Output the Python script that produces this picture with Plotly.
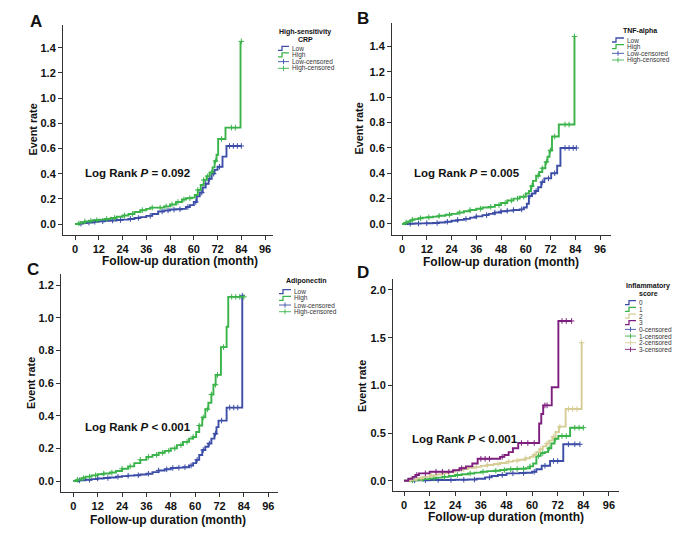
import numpy as np
import plotly.graph_objects as go

# The page body has an 8px default margin, so the figure is drawn at (8, 8)
OFF = 8
W, H = 685 - OFF, 540 - OFF

# ---------------- data ----------------
x_ticks = [0, 12, 24, 36, 48, 60, 72, 84, 96]

# Panel A: High-sensitivity CRP
A_low_t = [0, 2, 4, 6, 9, 12, 15, 18, 21, 24, 27, 30, 33, 36, 39, 42, 45, 48, 51, 54, 56, 58, 60, 61.5, 63, 64.5, 66, 67.5, 69, 70.5, 72, 74.5, 76.5, 84]
A_low_v = [0, 0.003, 0.008, 0.012, 0.018, 0.022, 0.025, 0.028, 0.032, 0.035, 0.04, 0.048, 0.055, 0.065, 0.08, 0.10, 0.108, 0.115, 0.118, 0.12, 0.135, 0.15, 0.175, 0.22, 0.25, 0.29, 0.32, 0.36, 0.40, 0.43, 0.455, 0.535, 0.62, 0.62]
A_low_cens = [3, 7, 10, 14, 19, 23, 28, 32, 38, 44, 47, 50, 53, 57, 61, 64, 66, 68, 70, 73, 78, 80, 82, 84]
A_high_t = [0, 1.5, 3, 5, 7, 9, 12, 15, 18, 21, 24, 27, 30, 33, 36, 38, 42, 45, 48, 51, 54, 56, 59, 60.5, 62, 63.5, 65, 66.5, 68, 69.5, 70.5, 71.5, 72.3, 76, 83.6]
A_high_v = [0, 0.005, 0.012, 0.02, 0.025, 0.03, 0.035, 0.04, 0.048, 0.058, 0.068, 0.08, 0.095, 0.11, 0.12, 0.13, 0.13, 0.14, 0.155, 0.175, 0.195, 0.205, 0.21, 0.23, 0.27, 0.31, 0.35, 0.38, 0.41, 0.45, 0.50, 0.55, 0.675, 0.765, 1.45]
A_high_cens = [2, 5, 8, 11, 16, 20, 25, 29, 34, 39, 43, 46, 49, 52, 55, 58, 62, 65, 67, 69, 71, 74, 79, 81, 84]

# Panel B: TNF-alpha
B_low_t = [0, 3, 6, 9, 12, 15, 18, 21, 24, 27, 30, 33, 36, 39, 42, 45, 48, 51, 54, 57, 59, 60.5, 61.5, 63, 64.5, 66, 67.5, 69, 72.3, 75.2, 76.8, 84.5]
B_low_v = [0, 0.002, 0.004, 0.005, 0.006, 0.008, 0.012, 0.018, 0.025, 0.032, 0.04, 0.05, 0.06, 0.07, 0.08, 0.09, 0.10, 0.105, 0.11, 0.115, 0.13, 0.16, 0.22, 0.24, 0.26, 0.29, 0.33, 0.36, 0.40, 0.46, 0.60, 0.60]
B_low_cens = [4, 8, 12, 17, 22, 27, 31, 36, 41, 45, 48, 51, 54, 58, 62, 65, 68, 71, 74, 79, 81, 83, 84.5]
B_high_t = [0, 1, 2, 3, 4, 5, 6, 8, 10, 12, 15, 18, 21, 24, 27, 30, 33, 36, 39, 42, 45, 48, 51, 54, 57, 60, 61.5, 62.5, 63.5, 65, 66.5, 68, 69.5, 70.5, 71.5, 72.7, 76, 83.6]
B_high_v = [0, 0.005, 0.012, 0.02, 0.027, 0.033, 0.038, 0.045, 0.05, 0.053, 0.058, 0.065, 0.073, 0.08, 0.09, 0.10, 0.11, 0.12, 0.13, 0.135, 0.15, 0.165, 0.185, 0.20, 0.215, 0.24, 0.26, 0.30, 0.34, 0.38, 0.41, 0.44, 0.49, 0.53, 0.58, 0.69, 0.785, 1.48]
B_high_cens = [2, 5, 9, 13, 18, 23, 28, 33, 38, 43, 47, 50, 53, 56, 59, 63, 66, 68, 70, 72, 74, 79, 81, 83.6]

# Panel C: Adiponectin
C_low_t = [0, 3, 6, 9, 12, 15, 18, 21, 24, 27, 30, 33, 36, 39, 42, 45, 48, 51, 54, 57, 59, 60.5, 62, 63.5, 65, 66.5, 68, 69.5, 70.5, 71.5, 75.5, 83.2]
C_low_v = [0, 0.004, 0.008, 0.012, 0.016, 0.019, 0.022, 0.026, 0.03, 0.033, 0.036, 0.04, 0.045, 0.055, 0.065, 0.072, 0.08, 0.082, 0.085, 0.095, 0.11, 0.13, 0.16, 0.19, 0.21, 0.23, 0.26, 0.29, 0.33, 0.37, 0.45, 1.135]
C_low_cens = [3, 8, 12, 17, 22, 27, 32, 37, 42, 46, 49, 52, 55, 58, 61, 64, 67, 70, 73, 77, 79, 81, 83.2]
C_high_t = [0, 2, 4, 6, 9, 12, 15, 18, 21, 24, 27, 30, 33, 36, 39, 42, 45, 48, 51, 54, 57, 59, 60.5, 62, 63.5, 65, 66.5, 68, 69, 70.1, 72.7, 75.5, 76.3, 84]
C_high_v = [0, 0.008, 0.018, 0.027, 0.035, 0.042, 0.046, 0.052, 0.062, 0.075, 0.09, 0.11, 0.13, 0.148, 0.16, 0.173, 0.185, 0.20, 0.22, 0.24, 0.26, 0.27, 0.30, 0.34, 0.39, 0.44, 0.48, 0.53, 0.59, 0.65, 0.82, 0.945, 1.128, 1.128]
C_high_cens = [2, 5, 8, 11, 15, 19, 24, 28, 33, 37, 41, 44, 47, 50, 53, 56, 59, 62, 64, 66, 68, 70, 71, 74, 78, 80, 82, 84]

# Panel D: Inflammatory score
D0_t = [0, 4, 8, 12, 18, 24, 30, 34, 38, 41, 44, 48, 54, 57, 60, 62, 64.5, 68.4, 74.6, 82.4]
D0_v = [0, 0.003, 0.005, 0.007, 0.008, 0.01, 0.012, 0.02, 0.035, 0.05, 0.06, 0.077, 0.08, 0.084, 0.094, 0.12, 0.157, 0.207, 0.382, 0.382]
D0_cens = [5, 10, 16, 22, 28, 33, 40, 46, 51, 56, 61, 66, 70, 72, 77, 80, 82.4]
D1_t = [0, 3, 6, 9, 12, 15, 18, 21, 24, 27, 30, 33, 36, 39, 42, 45, 48, 51, 54, 57, 59, 60.5, 62, 64, 66, 67.5, 69, 70.5, 72.3, 77.8, 84]
D1_v = [0, 0.004, 0.01, 0.017, 0.024, 0.032, 0.04, 0.05, 0.06, 0.068, 0.076, 0.085, 0.094, 0.10, 0.105, 0.112, 0.12, 0.123, 0.126, 0.13, 0.15, 0.18, 0.26, 0.29, 0.30, 0.34, 0.39, 0.44, 0.469, 0.556, 0.556]
D1_cens = [4, 9, 14, 19, 25, 31, 37, 43, 47, 50, 53, 56, 59, 63, 65, 68, 71, 74, 76, 80, 82, 84]
D2_t = [0, 3, 6, 9, 12, 15, 18, 21, 24, 27, 30, 33, 36, 39, 42, 45, 48, 51, 54, 57, 59, 60.5, 62, 63.5, 65, 66.5, 68, 69.5, 71, 72.6, 75.7, 83.2]
D2_v = [0, 0.01, 0.025, 0.04, 0.055, 0.065, 0.08, 0.095, 0.11, 0.122, 0.135, 0.145, 0.155, 0.165, 0.175, 0.185, 0.20, 0.21, 0.22, 0.235, 0.25, 0.27, 0.30, 0.33, 0.36, 0.39, 0.42, 0.46, 0.51, 0.567, 0.752, 1.447]
D2_cens = [3, 8, 13, 18, 23, 28, 34, 39, 44, 49, 53, 57, 61, 64, 67, 70, 73, 77, 79, 81, 83.2]
D3_t = [0, 2, 4, 5.5, 7, 12, 20, 23, 26, 29, 32, 34.5, 43, 45, 47, 49, 51, 53.5, 63.3, 64.3, 65.2, 69.2, 72.3, 78.5]
D3_v = [0, 0.02, 0.04, 0.06, 0.077, 0.094, 0.094, 0.11, 0.13, 0.15, 0.18, 0.23, 0.23, 0.25, 0.27, 0.30, 0.34, 0.395, 0.60, 0.70, 0.79, 0.98, 1.675, 1.675]
D3_cens = [6, 10, 15, 18, 21, 27, 36, 38, 40, 46, 55, 58, 61, 66, 67, 74, 76, 78.5]

log_rank = ["Log Rank <i>P</i> = 0.092", "Log Rank <i>P</i> = 0.005",
            "Log Rank <i>P</i> < 0.001", "Log Rank <i>P</i> < 0.001"]

BLUE = "#3D4EA8"
GREEN = "#3AB34A"
TAN = "#D6CD95"
PURPLE = "#7E1F7E"
AXC = "#333333"
TXT = "#111111"
FONT = "Liberation Sans, Arial, sans-serif"


def px(x):
    return (x - OFF) / W


def py(y):
    return 1 - (y - OFF) / H


def step_at(ts, vs, t):
    i = int(np.searchsorted(np.asarray(ts), t, side="right")) - 1
    return vs[max(i, 0)]


panels = [
    dict(letter="A", xdom=(63, 273), ydom=(25, 235), xr=(-6.06, 100.0), yr=(-0.087, 1.58),
         yticks=[0, 0.2, 0.4, 0.6, 0.8, 1.0, 1.2, 1.4], letter_xy=(36, 21),
         ytitle_xy=(32.5, 130), xtitle_xy=(180, 261), lr_xy=(4.0, 0.405),
         series=[("Low", A_low_t, A_low_v, A_low_cens, BLUE), ("High", A_high_t, A_high_v, A_high_cens, GREEN)],
         leg_title=["High-sensitivity", "CRP"], leg_title_xy=(305, 32), leg_icon_x=(278, 289), leg_y0=48.3),
    dict(letter="B", xdom=(392, 611), ydom=(23, 235), xr=(-4.85, 101.3), yr=(-0.087, 1.586),
         yticks=[0, 0.2, 0.4, 0.6, 0.8, 1.0, 1.2, 1.4], letter_xy=(363, 19),
         ytitle_xy=(358.5, 129), xtitle_xy=(501, 262), lr_xy=(4.85, 0.40),
         series=[("Low", B_low_t, B_low_v, B_low_cens, BLUE), ("High", B_high_t, B_high_v, B_high_cens, GREEN)],
         leg_title=["TNF-alpha"], leg_title_xy=(639.5, 31), leg_icon_x=(612, 624), leg_y0=40),
    dict(letter="C", xdom=(61, 278), ydom=(274, 492), xr=(-6.06, 100.8), yr=(-0.067, 1.268),
         yticks=[0, 0.2, 0.4, 0.6, 0.8, 1.0, 1.2], letter_xy=(33, 270),
         ytitle_xy=(31, 383), xtitle_xy=(168, 520), lr_xy=(4.8, 0.33),
         series=[("Low", C_low_t, C_low_v, C_low_cens, BLUE), ("High", C_high_t, C_high_v, C_high_cens, GREEN)],
         leg_title=["Adiponectin"], leg_title_xy=(306, 281), leg_icon_x=(279, 291), leg_y0=291.7),
    dict(letter="D", xdom=(393, 619), ydom=(279, 491), xr=(-5.15, 100.7), yr=(-0.108, 2.115),
         yticks=[0, 0.5, 1.0, 1.5, 2.0], letter_xy=(363, 272),
         ytitle_xy=(362, 386), xtitle_xy=(506, 517), lr_xy=(2.8, 0.44),
         series=[("0", D0_t, D0_v, D0_cens, BLUE), ("1", D1_t, D1_v, D1_cens, GREEN),
                 ("2", D2_t, D2_v, D2_cens, TAN), ("3", D3_t, D3_v, D3_cens, PURPLE)],
         leg_title=["Inflammatory", "score"], leg_title_xy=(648, 286), leg_icon_x=(625, 636), leg_y0=302.7),
]

fig = go.Figure()
annotations = []
shapes = []
LEG_DY = 6.67

for k, p in enumerate(panels):
    n = "" if k == 0 else str(k + 1)
    xa, ya = "x" + n, "y" + n
    # traces
    for name, ts, vs, cens, col in p["series"]:
        fig.add_trace(go.Scatter(x=ts, y=vs, mode="lines", line=dict(color=col, width=1.9, shape="hv"),
                                 name=name, showlegend=False, xaxis=xa, yaxis=ya))
        cy = [step_at(ts, vs, t) for t in cens]
        fig.add_trace(go.Scatter(x=cens, y=cy, mode="markers", name=name + "-censored", showlegend=False,
                                 marker=dict(symbol="cross-thin", size=4, color=col, line=dict(color=col, width=1)),
                                 xaxis=xa, yaxis=ya))
    # axes
    ax_common = dict(showline=True, linecolor=AXC, linewidth=1, ticks="outside", ticklen=4, tickwidth=1,
                     tickcolor=AXC, showgrid=False, zeroline=False,
                     tickfont=dict(family=FONT, size=11, color=TXT, weight="bold"))
    fig.layout["xaxis" + n] = dict(domain=[px(p["xdom"][0]), px(p["xdom"][1])], range=list(p["xr"]),
                                   tickvals=x_ticks, anchor=ya, **ax_common)
    fig.layout["yaxis" + n] = dict(domain=[py(p["ydom"][1]), py(p["ydom"][0])], range=list(p["yr"]),
                                   tickvals=p["yticks"], tickformat=".1f", anchor=xa, **ax_common)
    # panel letter
    annotations.append(dict(text=p["letter"], x=px(p["letter_xy"][0]), y=py(p["letter_xy"][1]), xref="paper",
                            yref="paper", showarrow=False, xanchor="center", yanchor="middle",
                            font=dict(family=FONT, size=17, color=TXT, weight="bold")))
    # axis titles
    annotations.append(dict(text="Event rate", x=px(p["ytitle_xy"][0]), y=py(p["ytitle_xy"][1]), xref="paper",
                            yref="paper", showarrow=False, textangle=-90, xanchor="center", yanchor="middle",
                            font=dict(family=FONT, size=10.8, color=TXT, weight="bold")))
    annotations.append(dict(text="Follow-up duration (month)", x=px(p["xtitle_xy"][0]), y=py(p["xtitle_xy"][1]),
                            xref="paper", yref="paper", showarrow=False, xanchor="center", yanchor="middle",
                            font=dict(family=FONT, size=12, color=TXT, weight="bold")))
    # log rank text
    annotations.append(dict(text=log_rank[k], x=p["lr_xy"][0], y=p["lr_xy"][1], xref=xa, yref=ya,
                            showarrow=False, xanchor="left", yanchor="middle",
                            font=dict(family=FONT, size=11.5, color=TXT, weight="bold")))
    # legend (drawn compactly, SPSS style)
    tx, ty = p["leg_title_xy"]
    for i, line in enumerate(p["leg_title"]):
        annotations.append(dict(text=line, x=px(tx), y=py(ty + i * 7.3), xref="paper", yref="paper",
                                showarrow=False, xanchor="center", yanchor="middle",
                                font=dict(family=FONT, size=7, color=TXT, weight="bold")))
    a, b = p["leg_icon_x"]
    items = [(s[0], s[4], "step") for s in p["series"]] + [(s[0] + "-censored", s[4], "cens") for s in p["series"]]
    for i, (label, col, kind) in enumerate(items):
        yc = p["leg_y0"] + i * LEG_DY
        if kind == "step":
            path = "M {},{} L {},{} L {},{} L {},{}".format(px(a), py(yc + 2), px(a + 4), py(yc + 2),
                                                           px(a + 4), py(yc - 2), px(b), py(yc - 2))
            shapes.append(dict(type="path", path=path, xref="paper", yref="paper",
                               line=dict(color=col, width=1.3)))
        else:
            shapes.append(dict(type="line", x0=px(a), x1=px(b), y0=py(yc), y1=py(yc), xref="paper",
                               yref="paper", line=dict(color=col, width=0.9)))
            m = (a + b) / 2
            shapes.append(dict(type="line", x0=px(m), x1=px(m), y0=py(yc - 2.5), y1=py(yc + 2.5), xref="paper",
                               yref="paper", line=dict(color=col, width=0.9)))
        annotations.append(dict(text=label, x=px(b + 0.5), y=py(yc), xref="paper", yref="paper",
                                showarrow=False, xanchor="left", yanchor="middle",
                                font=dict(family=FONT, size=6.5, color="#333333")))

fig.update_layout(width=W, height=H, margin=dict(l=0, r=0, t=0, b=0), plot_bgcolor="white",
                  paper_bgcolor="white", annotations=annotations, shapes=shapes, showlegend=False)

fig.write_html("out.html")
